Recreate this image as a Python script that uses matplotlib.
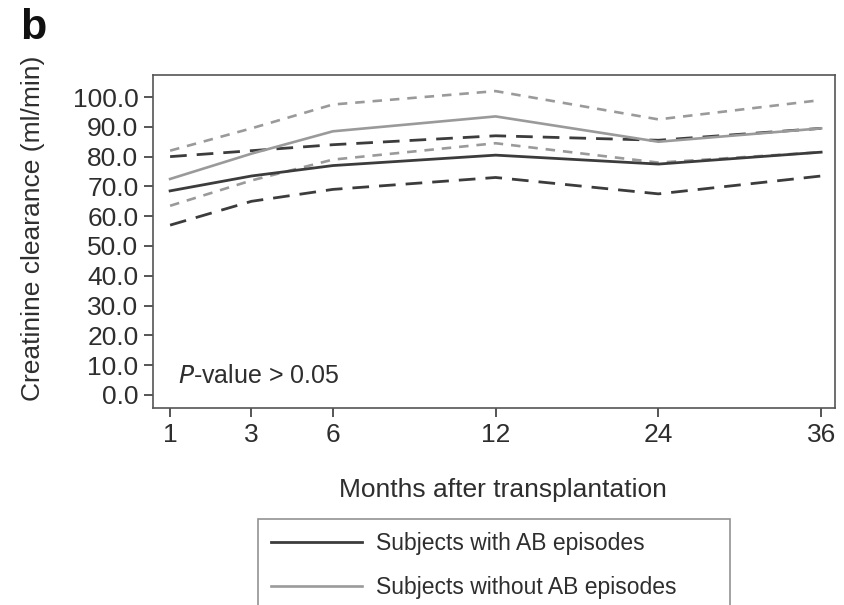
import numpy as np
import matplotlib
matplotlib.use("Agg")
import matplotlib.pyplot as plt
from matplotlib.lines import Line2D

plt.rcParams['font.family'] = ['Liberation Sans', 'DejaVu Sans']

# months after transplantation (plotted on an evenly spaced index axis)
months = ["1", "3", "6", "12", "24", "36"]
month_pos = [0, 1, 2, 4, 6, 8]

# creatinine clearance (ml/min), mean with 95% CI
with_ab_mean = [68.5, 73.5, 77.0, 80.5, 77.5, 81.5]
with_ab_upper = [80.0, 82.0, 84.0, 87.0, 85.5, 89.5]
with_ab_lower = [57.0, 65.0, 69.0, 73.0, 67.5, 73.5]

without_ab_mean = [72.5, 81.0, 88.5, 93.5, 85.0, 89.5]
without_ab_upper = [82.0, 89.5, 97.5, 102.0, 92.5, 99.0]
without_ab_lower = [63.5, 72.0, 79.0, 84.5, 78.0, 81.5]

y_ticks = np.arange(0, 101, 10)

dark = '#3c3c3c'
light = '#9a9a9a'
txt = '#2e2e2e'

fig = plt.figure(figsize=(8.44, 6.05), dpi=100)
ax = fig.add_axes([0.1813, 0.3256, 0.808, 0.5504])

# confidence bands first, means on top
ax.plot(month_pos, without_ab_upper, color=light, lw=1.9, dashes=(3.6, 3.0))
ax.plot(month_pos, without_ab_lower, color=light, lw=1.9, dashes=(3.6, 3.0))
ax.plot(month_pos, with_ab_upper, color=dark, lw=2.0, dashes=(6.0, 3.6))
ax.plot(month_pos, with_ab_lower, color=dark, lw=2.0, dashes=(6.0, 3.6))
ax.plot(month_pos, without_ab_mean, color=light, lw=1.9)
ax.plot(month_pos, with_ab_mean, color=dark, lw=2.0)

ax.set_xlim(-0.21, 8.17)
ax.set_ylim(-4.4, 107.4)
ax.set_xticks(month_pos)
ax.set_xticklabels(months)
ax.set_yticks(y_ticks)
ax.set_yticklabels([f"{v:.1f}" for v in y_ticks])

for s in ax.spines.values():
    s.set_color('#555555')
    s.set_linewidth(1.2)
ax.tick_params(direction='out', length=6.5, width=1.4, color='#555555',
               labelsize=19, labelcolor=txt, pad=4)

ax.set_xlabel("Months after transplantation", fontsize=19, color=txt)
ax.xaxis.set_label_coords(0.513, -0.21)
ax.set_ylabel("Creatinine clearance (ml/min)", fontsize=19, color=txt)
ax.yaxis.set_label_coords(-0.158, 0.54)

ax.text(0.1, 6.4, r"$\it{P}$-value > 0.05", fontsize=18, color=txt,
        va='center', ha='left')

fig.text(20 / 844, 1 - 8 / 605, "b", fontsize=31, fontweight='bold',
         color='#111111', va='top', ha='left')

# legend box runs off the bottom edge of the figure
handles = [Line2D([], [], color=dark, lw=2.0),
           Line2D([], [], color=light, lw=1.9)]
fig.legend(handles, ["Subjects with AB episodes", "Subjects without AB episodes"],
           loc='upper left',
           bbox_to_anchor=(258 / 844, 1 - 519 / 605, 472 / 844, 0.0),
           mode='expand',
           fontsize=16.5, frameon=True, fancybox=False, edgecolor='#777777',
           handlelength=4.0, handletextpad=0.6, labelspacing=0.95,
           borderpad=0.55, borderaxespad=0, labelcolor=txt)
leg = fig.legends[0]
leg.get_frame().set_linewidth(1.2)

fig.savefig("out.png", dpi=100)
